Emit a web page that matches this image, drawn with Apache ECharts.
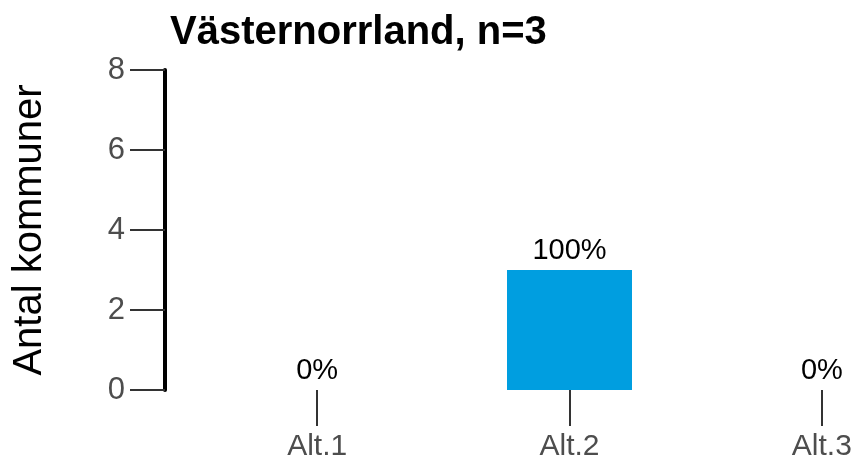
<!DOCTYPE html>
<html><head><meta charset="utf-8">
<script src="https://cdn.jsdelivr.net/npm/echarts@6/dist/echarts.min.js"></script>
<style>html,body{margin:0;padding:0;background:#fff}#c{width:857px;height:463px}</style>
</head><body><div id="c"></div>
<script>
const titleText = 'Västernorrland, n=3';
const yAxisTitle = 'Antal kommuner';
const categories = ['Alt.1', 'Alt.2', 'Alt.3'];
const counts = [0, 3, 0];
const percentLabels = ['0%', '100%', '0%'];
const yTicks = [0, 2, 4, 6, 8];

const chart = echarts.init(document.getElementById('c'), null, {renderer: 'canvas'});
chart.setOption({
  animation: false,
  backgroundColor: '#ffffff',
  title: {
    text: titleText, left: 165, top: 8,
    textStyle: {fontFamily: 'Liberation Sans', fontWeight: 'bold', fontSize: 40, color: '#000'}
  },
  grid: {left: 191, width: 757, top: 70, height: 320, containLabel: false, outerBoundsMode: 'none'},
  xAxis: {
    type: 'category', data: categories,
    axisLine: {show: false},
    axisTick: {show: true, alignWithLabel: true, length: 36, lineStyle: {color: '#333333', width: 2}},
    axisLabel: {margin: 42, fontFamily: 'Liberation Sans', fontSize: 30, color: '#4D4D4D'},
    splitLine: {show: false}
  },
  yAxis: {
    type: 'value', min: yTicks[0], max: yTicks[yTicks.length - 1], interval: 2,
    offset: 26,
    name: yAxisTitle, nameLocation: 'middle', nameGap: 115,
    nameTextStyle: {fontFamily: 'Liberation Sans', fontSize: 40, color: '#000'},
    axisLine: {show: true, lineStyle: {color: '#000', width: 4}},
    axisTick: {show: true, length: 35, lineStyle: {color: '#333333', width: 2}},
    axisLabel: {margin: 40, fontFamily: 'Liberation Sans', fontSize: 31, color: '#4D4D4D'},
    splitLine: {show: false}
  },
  series: [{
    type: 'bar', data: counts, barWidth: 125,
    itemStyle: {color: '#009EE0'},
    label: {
      show: true, position: 'top', distance: 5,
      formatter: p => percentLabels[p.dataIndex],
      fontFamily: 'Liberation Sans', fontSize: 29, color: '#000'
    }
  }]
});
</script></body></html>
